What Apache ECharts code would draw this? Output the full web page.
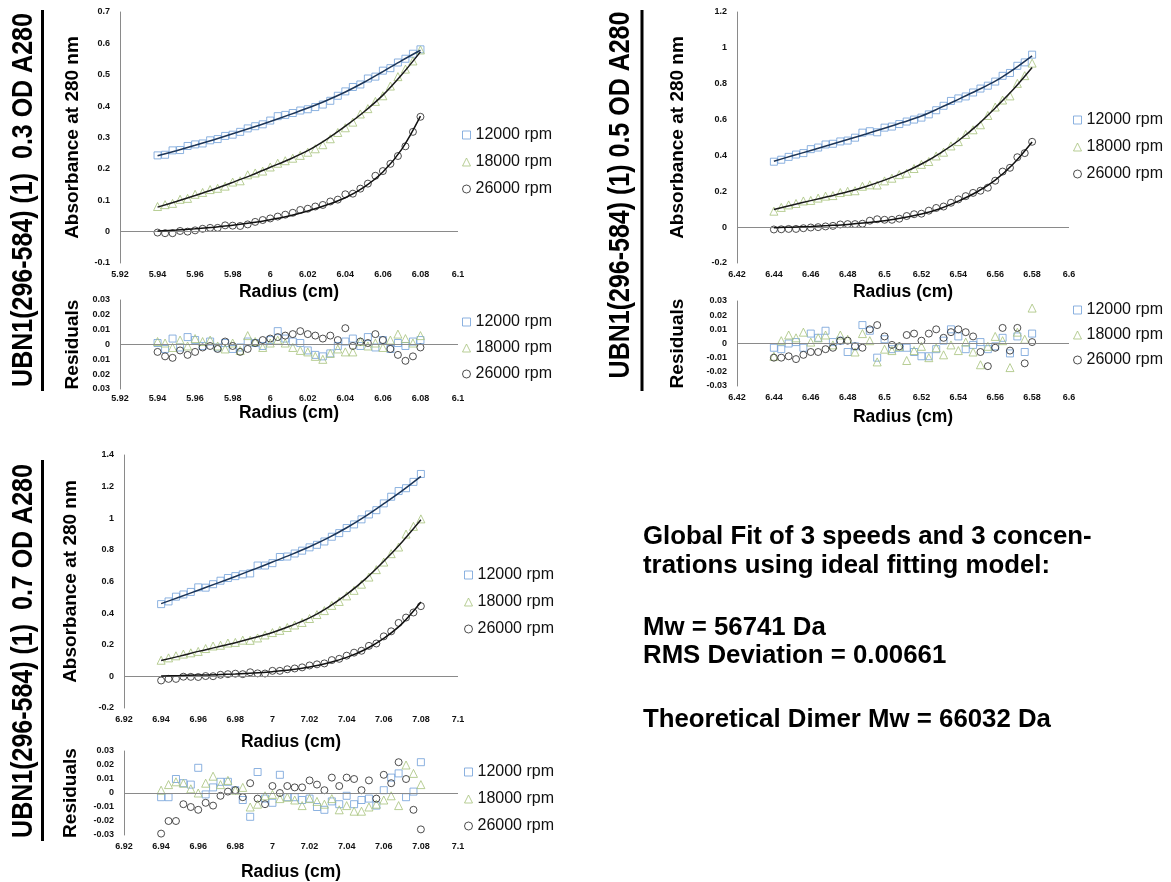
<!DOCTYPE html>
<html><head><meta charset="utf-8">
<script src="https://cdn.jsdelivr.net/npm/echarts@6/dist/echarts.min.js"></script>
<style>html,body{margin:0;padding:0;background:#fff}#c{width:1171px;height:882px}</style>
</head><body><div id="c"></div>
<script>
// ---------- DATA ----------
const speeds = ['12000 rpm', '18000 rpm', '26000 rpm'];
const panelTitles = ['UBN1(296-584) (1)  0.3 OD A280', 'UBN1(296-584) (1) 0.5 OD A280', 'UBN1(296-584) (1)  0.7 OD A280'];

// Panel 0.3 OD
const xs03 = [5.94,5.944,5.948,5.952,5.956,5.96,5.964,5.968,5.972,5.976,5.98,5.984,5.988,5.992,5.996,6.0,6.004,6.008,6.012,6.016,6.02,6.024,6.028,6.032,6.036,6.04,6.044,6.048,6.052,6.056,6.06,6.064,6.068,6.072,6.076,6.08];
const abs03_12000 = [.243,.245,.259,.260,.273,.278,.281,.291,.295,.305,.309,.318,.329,.336,.342,.354,.368,.372,.378,.386,.390,.397,.405,.417,.433,.447,.461,.469,.488,.494,.513,.521,.539,.551,.567,.581];
const abs03_18000 = [.080,.086,.090,.103,.106,.119,.125,.134,.138,.145,.158,.162,.181,.187,.193,.206,.218,.226,.234,.243,.253,.264,.277,.296,.316,.331,.349,.375,.392,.415,.433,.464,.494,.518,.544,.579];
const abs03_26000 = [-.003,-.005,-.005,.002,.000,.004,.009,.012,.012,.020,.019,.018,.023,.031,.037,.042,.048,.054,.060,.069,.073,.080,.085,.096,.102,.119,.121,.137,.153,.178,.193,.216,.241,.272,.318,.366];
const fx03 = [5.94,5.95,5.96,5.97,5.98,5.99,6.0,6.01,6.02,6.03,6.04,6.05,6.06,6.07,6.08];
const fit03_12000 = [.242,.258,.275,.293,.312,.331,.351,.372,.394,.418,.445,.476,.510,.545,.578];
const fit03_18000 = [.078,.096,.115,.135,.157,.180,.205,.230,.258,.294,.336,.382,.435,.500,.573];
const fit03_26000 = [.002,.005,.009,.014,.020,.028,.038,.050,.066,.085,.108,.142,.190,.262,.368];
const res03_12000 = [.001,-.003,.004,-.002,.005,.003,-.001,.002,-.002,.001,-.003,-.002,.002,.001,-.001,.003,.009,.004,.002,.001,-.004,-.007,-.008,-.006,-.001,.002,.004,-.001,.005,-.002,.003,-.003,.001,-.001,.002,.003];
const res03_18000 = [.002,.001,-.002,.003,-.001,.004,.002,.003,-.001,-.003,.001,-.004,.006,.002,-.002,.001,.003,.001,-.002,-.004,-.005,-.008,-.010,-.006,-.003,-.005,-.005,.002,-.001,.001,-.002,.003,.007,.004,.001,.006];
const res03_26000 = [-.005,-.008,-.009,-.004,-.007,-.005,-.002,-.001,-.003,.002,-.001,-.005,-.003,.001,.003,.004,.005,.006,.007,.009,.007,.006,.004,.006,.003,.011,-.001,.002,.001,.007,.003,-.003,-.007,-.011,-.008,-.002];

// Panel 0.5 OD
const xs05 = [6.44,6.444,6.448,6.452,6.456,6.46,6.464,6.468,6.472,6.476,6.48,6.484,6.488,6.492,6.496,6.5,6.504,6.508,6.512,6.516,6.52,6.524,6.528,6.532,6.536,6.54,6.544,6.548,6.552,6.556,6.56,6.564,6.568,6.572,6.576,6.58];
const abs05_12000 = [.365,.376,.392,.405,.413,.435,.444,.461,.465,.478,.483,.499,.527,.535,.529,.555,.561,.575,.589,.600,.611,.629,.652,.677,.704,.718,.729,.751,.773,.789,.812,.844,.860,.900,.919,.962];
const abs05_18000 = [.089,.110,.124,.132,.146,.149,.162,.173,.176,.193,.200,.203,.228,.236,.235,.258,.273,.293,.301,.327,.350,.366,.397,.418,.453,.477,.517,.543,.571,.623,.670,.709,.732,.802,.845,.915];
const abs05_26000 = [-.013,-.012,-.010,-.010,-.006,-.002,.000,.004,.007,.015,.017,.017,.019,.036,.044,.041,.041,.047,.062,.072,.075,.092,.107,.115,.136,.155,.173,.191,.203,.220,.259,.310,.331,.390,.413,.476];
const fx05 = [6.44,6.45,6.46,6.47,6.48,6.49,6.5,6.51,6.52,6.53,6.54,6.55,6.56,6.57,6.58];
const fit05_12000 = [.368,.398,.428,.458,.489,.520,.552,.585,.620,.665,.713,.762,.814,.880,.955];
const fit05_18000 = [.098,.123,.148,.172,.197,.227,.262,.303,.352,.412,.482,.566,.665,.770,.890];
const fit05_26000 = [-.003,.000,.004,.009,.015,.024,.036,.052,.073,.103,.145,.196,.262,.355,.475];
const res05_12000 = [-.003,-.004,.000,.001,-.003,.007,.004,.009,.001,.002,-.006,-.002,.013,.009,-.010,.003,-.004,-.003,-.003,-.006,-.009,-.009,-.004,.002,.010,.005,-.004,-.001,.001,-.004,-.002,.004,-.007,.005,-.006,.007];
const res05_18000 = [-.009,.002,.006,.004,.008,.001,.004,.006,-.001,.006,.003,-.006,.007,.002,-.013,-.004,-.005,-.002,-.012,-.005,-.002,-.010,-.003,-.008,-.001,-.005,.001,-.006,-.015,-.002,.005,.002,-.017,.008,.003,.025];
const res05_26000 = [-.010,-.010,-.009,-.011,-.008,-.006,-.006,-.004,-.003,.002,.002,-.002,-.003,.010,.013,.005,-.001,-.002,.006,.007,.002,.007,.010,.004,.008,.010,.008,.005,-.006,-.016,-.003,.011,-.005,.011,-.014,.001];

// Panel 0.7 OD
const xs07 = [6.94,6.944,6.948,6.952,6.956,6.96,6.964,6.968,6.972,6.976,6.98,6.984,6.988,6.992,6.996,7.0,7.004,7.008,7.012,7.016,7.02,7.024,7.028,7.032,7.036,7.04,7.044,7.048,7.052,7.056,7.06,7.064,7.068,7.072,7.076,7.08];
const abs07_12000 = [.457,.474,.504,.518,.534,.563,.561,.583,.605,.622,.634,.645,.651,.701,.701,.716,.755,.758,.777,.795,.816,.832,.853,.883,.906,.938,.961,.993,1.024,1.051,1.094,1.136,1.172,1.190,1.230,1.280];
const abs07_18000 = [.102,.117,.130,.141,.149,.158,.176,.192,.197,.211,.215,.229,.228,.243,.262,.277,.291,.309,.325,.341,.366,.391,.416,.449,.474,.509,.544,.583,.628,.675,.723,.776,.818,.900,.949,.996];
const abs07_26000 = [-.026,-.016,-.016,-.002,-.003,-.004,.002,.001,.010,.014,.017,.014,.026,.019,.018,.035,.035,.045,.050,.057,.069,.076,.082,.103,.111,.131,.150,.162,.193,.208,.253,.285,.338,.372,.404,.444];
const fx07 = [6.94,6.95,6.96,6.97,6.98,6.99,7.0,7.01,7.02,7.03,7.04,7.05,7.06,7.07,7.08];
const fit07_12000 = [.460,.502,.545,.588,.632,.677,.723,.770,.820,.876,.940,1.012,1.092,1.175,1.265];
const fit07_18000 = [.100,.128,.158,.185,.213,.244,.278,.320,.370,.437,.518,.615,.728,.852,.990];
const fit07_26000 = [.003,.005,.008,.011,.015,.021,.030,.042,.060,.085,.120,.170,.240,.335,.470];
const res07_12000 = [-.003,-.003,.010,.007,.006,.018,-.001,.004,.008,.008,.002,-.005,-.017,.015,-.004,-.007,.013,-.003,-.003,-.005,-.004,-.010,-.012,-.006,-.008,-.002,-.008,-.005,-.004,-.009,.002,.011,.014,-.003,.001,.022];
const res07_18000 = [.002,.006,.008,.007,.003,.000,.007,.012,.006,.009,.002,.004,-.010,-.008,-.002,-.001,-.004,-.003,-.005,-.009,-.004,-.006,-.008,-.004,-.012,-.009,-.013,-.013,-.010,-.008,-.005,-.002,-.009,.020,.014,.006];
const res07_26000 = [-.029,-.020,-.020,-.008,-.010,-.012,-.007,-.009,-.002,.001,.002,-.003,.007,-.004,-.008,.005,.000,.005,.004,.004,.009,.006,.002,.011,.005,.011,.010,.002,.009,-.004,.013,.007,.022,.010,-.012,-.026];

const textBlock = ['Global Fit of 3 speeds and 3 concen-', 'trations using ideal fitting model:', 'Mw = 56741 Da', 'RMS Deviation = 0.00661', 'Theoretical Dimer Mw = 66032 Da'];

// ---------- LAYOUT / STYLE ----------
const FONT = "'Liberation Sans', Arial, sans-serif";
const COLORS = ['#6f9fd8', '#a6c27a', '#222222'];
const FITCOL = ['#1c3558', '#1a1a1a', '#111111'];
const SYMS = ['rect', 'triangle', 'circle'];
const SIZES = [7, 8, 7];

const panels = [
  {xs: xs03, fx: fx03, abs: [abs03_12000, abs03_18000, abs03_26000], fit: [fit03_12000, fit03_18000, fit03_26000], res: [res03_12000, res03_18000, res03_26000],
   x: [5.92, 6.1], y: [-0.1, 0.7, 0.1], resAbsLabels: true,
   main: {left: 120, top: 12, width: 338, height: 251}, resid: {left: 120, top: 300, width: 338, height: 89},
   yGap: 38, xGapMain: 20, xGapRes: 15, resMargin: 5,
   legMain: {left: 457, top: 122, gap: 11}, legRes: {left: 457, top: 309, gap: 10},
   title: {x: 24, y: 200}, line: {x: 42.5, y1: 10, y2: 391}},
  {xs: xs05, fx: fx05, abs: [abs05_12000, abs05_18000, abs05_26000], fit: [fit05_12000, fit05_18000, fit05_26000], res: [res05_12000, res05_18000, res05_26000],
   x: [6.42, 6.6], y: [-0.2, 1.2, 0.2], resAbsLabels: false,
   main: {left: 737, top: 12, width: 332, height: 251}, resid: {left: 737, top: 301, width: 332, height: 85},
   yGap: 50, xGapMain: 20, xGapRes: 22, resMargin: 7,
   legMain: {left: 1068, top: 107, gap: 11}, legRes: {left: 1068, top: 297, gap: 9},
   title: {x: 621, y: 195}, line: {x: 642, y1: 10, y2: 391}},
  {xs: xs07, fx: fx07, abs: [abs07_12000, abs07_18000, abs07_26000], fit: [fit07_12000, fit07_18000, fit07_26000], res: [res07_12000, res07_18000, res07_26000],
   x: [6.92, 7.1], y: [-0.2, 1.4, 0.2], resAbsLabels: false,
   main: {left: 124, top: 455, width: 334, height: 253}, resid: {left: 124, top: 751, width: 334, height: 85},
   yGap: 44, xGapMain: 25, xGapRes: 28, resMargin: 7,
   legMain: {left: 459, top: 562, gap: 11}, legRes: {left: 459, top: 759, gap: 11},
   title: {x: 24, y: 651}, line: {x: 42.5, y1: 460, y2: 841}}
];

const fmt = v => String(+v.toFixed(2));
const yNameStyle = {fontFamily: FONT, fontWeight: 'bold', fontSize: 19, color: '#000'};
const xNameStyle = {fontFamily: FONT, fontWeight: 'bold', fontSize: 17.5, color: '#000'};
const labelStyle = {fontFamily: FONT, fontWeight: 'bold', fontSize: 9, color: '#111'};

const grid = [], xAxis = [], yAxis = [], series = [], legend = [], graphic = [];

panels.forEach((p, pi) => {
  [['main', p.main], ['res', p.resid]].forEach(([kind, g]) => {
    const gi = grid.length;
    grid.push(Object.assign({containLabel: false}, g));
    const isRes = kind === 'res';
    xAxis.push({gridIndex: gi, type: 'value', min: p.x[0], max: p.x[1], interval: 0.02,
      name: 'Radius (cm)', nameLocation: 'middle', nameGap: isRes ? p.xGapRes : p.xGapMain, nameTextStyle: xNameStyle,
      axisLine: {show: false}, axisTick: {show: false}, splitLine: {show: false},
      axisLabel: Object.assign({margin: isRes ? p.resMargin : 7, formatter: fmt}, labelStyle)});
    yAxis.push({gridIndex: gi, type: 'value',
      min: isRes ? -0.03 : p.y[0], max: isRes ? 0.03 : p.y[1], interval: isRes ? 0.01 : p.y[2],
      name: isRes ? 'Residuals' : 'Absorbance at 280 nm', nameLocation: 'middle', nameRotate: 90, nameGap: p.yGap, nameTextStyle: yNameStyle,
      axisLine: {show: true, onZero: false, lineStyle: {color: '#8a8a8a', width: 1}}, axisTick: {show: false}, splitLine: {show: false},
      axisLabel: Object.assign({margin: 10, formatter: (isRes && p.resAbsLabels) ? (v => String(+Math.abs(v).toFixed(2))) : fmt}, labelStyle)});
    const vals = isRes ? p.res : p.abs;
    speeds.forEach((s, si) => {
      const ser = {type: 'scatter', name: s, xAxisIndex: gi, yAxisIndex: gi,
        symbol: SYMS[si], symbolSize: SIZES[si], z: 2 + si,
        itemStyle: {color: 'rgba(255,255,255,0)', borderColor: COLORS[si], borderWidth: 1},
        data: p.xs.map((x, i) => [x, vals[si][i]])};
      if (si === 0) {
        ser.markLine = {silent: true, symbol: ['none', 'none'], label: {show: false},
          lineStyle: {color: '#8a8a8a', width: 1, type: 'solid'}, data: [{yAxis: 0}]};
      }
      series.push(ser);
      if (!isRes) {
        series.push({type: 'line', name: 'fit ' + s, xAxisIndex: gi, yAxisIndex: gi, smooth: 0.35,
          showSymbol: false, symbol: 'none', z: 10, lineStyle: {color: FITCOL[si], width: 1.5},
          data: p.fx.map((x, i) => [x, p.fit[si][i]])});
      }
    });
    const lp = isRes ? p.legRes : p.legMain;
    legend.push({left: lp.left, top: lp.top, orient: 'vertical', itemWidth: 8, itemHeight: 8, itemGap: lp.gap,
      selectedMode: false,
      textStyle: {fontFamily: FONT, fontSize: 16, lineHeight: 16, color: '#111'},
      data: speeds.map((s, si) => ({name: s, icon: SYMS[si],
        itemStyle: {color: 'rgba(255,255,255,0)', borderColor: COLORS[si], borderWidth: 1}}))});
  });
  graphic.push({type: 'text', x: p.title.x, y: p.title.y, rotation: Math.PI / 2, scaleY: 1.2,
    style: {text: panelTitles[pi], fontFamily: FONT, fontWeight: 'bold', fontSize: 25, fill: '#000',
      align: 'center', verticalAlign: 'middle'}});
  graphic.push({type: 'line', shape: {x1: p.line.x, y1: p.line.y1, x2: p.line.x, y2: p.line.y2},
    style: {stroke: '#000', lineWidth: 3}});
});

const tbY = [537, 566, 628, 656, 720];
textBlock.forEach((t, i) => {
  graphic.push({type: 'text', x: 643, y: tbY[i],
    style: {text: t, fontFamily: FONT, fontWeight: 'bold', fontSize: 25.8, fill: '#000', align: 'left', verticalAlign: 'middle'}});
});

const chart = echarts.init(document.getElementById('c'), null, {renderer: 'canvas'});
chart.setOption({animation: false, backgroundColor: '#fff', grid, xAxis, yAxis, series, legend, graphic});
</script>
</body></html>
